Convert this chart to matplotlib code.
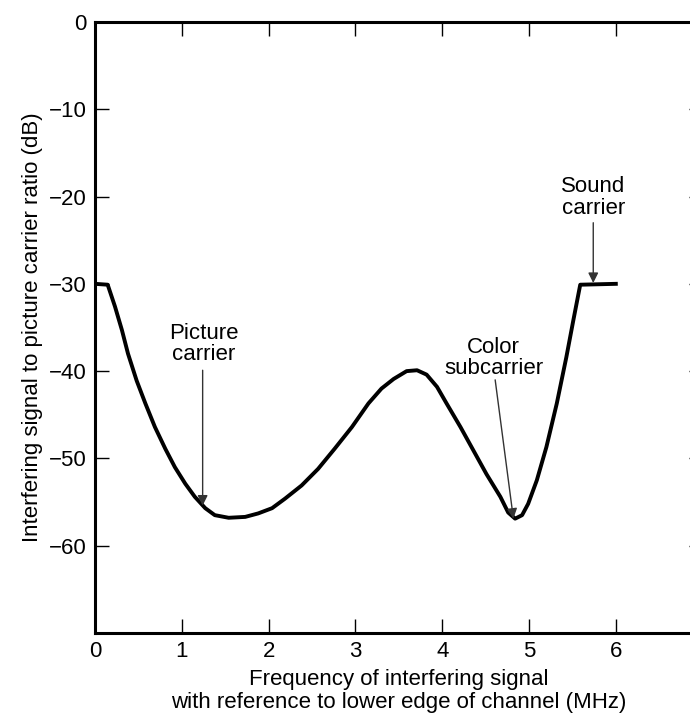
import matplotlib
matplotlib.use('Agg')
import matplotlib.pyplot as plt

plt.rcParams['font.family'] = ['Liberation Sans', 'DejaVu Sans']

# Curve (MHz, dB)
freq = [0, 0.146, 0.23, 0.31, 0.38, 0.48, 0.58, 0.69, 0.81, 0.92, 1.04, 1.15, 1.27,
        1.38, 1.54, 1.73, 1.88, 2.04, 2.19, 2.38, 2.57, 2.76, 2.96, 3.15, 3.30,
        3.44, 3.59, 3.71, 3.82, 3.94, 4.05, 4.21, 4.36, 4.51, 4.67, 4.76, 4.84,
        4.92, 4.99, 5.09, 5.20, 5.32, 5.43, 5.51, 5.59, 6.0]
ratio = [-30, -30.1, -32.6, -35.3, -38.0, -41.1, -43.7, -46.4, -48.9, -51.0, -52.9, -54.4, -55.7,
         -56.5, -56.8, -56.7, -56.3, -55.7, -54.6, -53.1, -51.2, -48.9, -46.4, -43.7, -42.0,
         -40.9, -40.0, -39.9, -40.4, -41.8, -43.7, -46.4, -49.1, -51.8, -54.4, -56.2, -56.9,
         -56.5, -55.2, -52.5, -48.7, -43.7, -38.4, -34.2, -30.1, -30]

x_ticks = [0, 1, 2, 3, 4, 5, 6]
y_ticks = [0, -10, -20, -30, -40, -50, -60]
y_tick_labels = ['0', '\u221210', '\u221220', '\u221230', '\u221240', '\u221250', '\u221260']

# annotations: label, text position, arrow start, arrow tip
notes = [
    ('Picture\ncarrier', (1.25, -36.9), (1.24, -39.9), (1.24, -55.4)),
    ('Color\nsubcarrier', (4.59, -38.5), (4.61, -41.0), (4.82, -56.9)),
    ('Sound\ncarrier', (5.74, -20.1), (5.74, -23.0), (5.74, -29.9)),
]

fig = plt.figure(figsize=(6.9, 7.13), dpi=100)
ax = fig.add_axes([0.1377, 0.1122, 0.8806, 0.857])

ax.plot(freq, ratio, color='black', lw=2.8, solid_joinstyle='round')

for label, tpos, start, tip in notes:
    ax.text(tpos[0], tpos[1], label, ha='center', va='center', fontsize=16,
            linespacing=1.05)
    ax.annotate('', xy=tip, xytext=start,
                arrowprops=dict(arrowstyle='-|>', color='#333333', lw=1,
                                mutation_scale=15, shrinkA=0, shrinkB=0))

ax.set_xlim(0, 7)
ax.set_ylim(-70, 0)
ax.set_xticks(x_ticks)
ax.set_yticks(y_ticks)
ax.set_yticklabels(y_tick_labels)
ax.tick_params(direction='in', length=10, width=1, labelsize=16, pad=6,
               top=True, right=True)
for s in ax.spines.values():
    s.set_linewidth(2.2)

ax.set_xlabel('Frequency of interfering signal\nwith reference to lower edge of channel (MHz)',
              fontsize=16, labelpad=5, linespacing=1.12)
ax.set_ylabel('Interfering signal to picture carrier ratio (dB)', fontsize=16, labelpad=4)

fig.savefig('out.png', dpi=100)
